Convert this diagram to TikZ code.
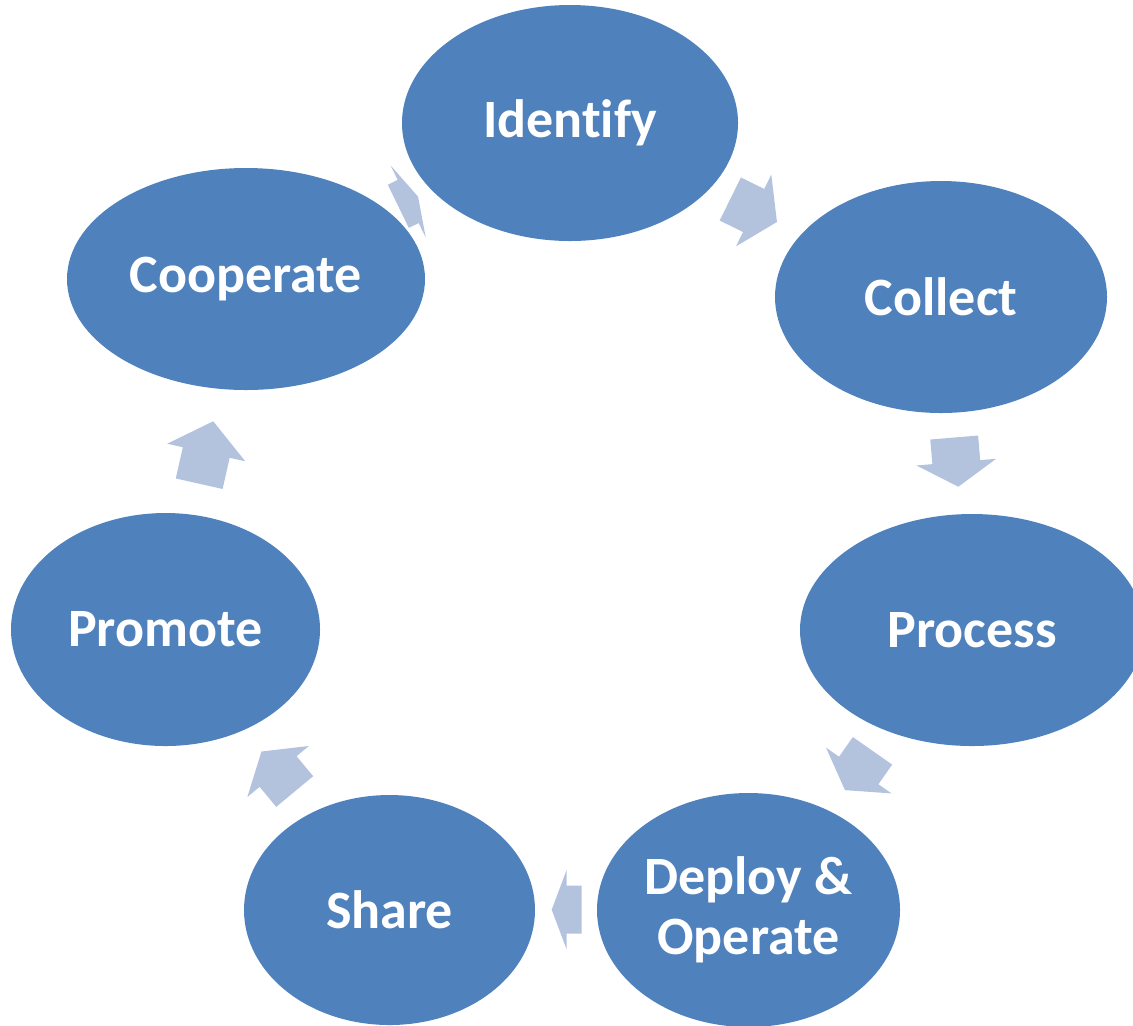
\documentclass[tikz,border=0pt]{standalone}
\usepackage{fontspec}
\setmainfont{Carlito}[Ligatures={NoCommon,NoRare,NoContextual}]
\usetikzlibrary{shapes.geometric}
\definecolor{ellblue}{HTML}{4F81BD}
\definecolor{arrblue}{HTML}{B3C3DE}
\tikzset{
  stage/.style={ellipse, fill=ellblue, text=white, inner sep=0pt,
    font=\fontsize{27}{30}\selectfont\bfseries, align=center},
  blockarrow/.style={fill=arrblue},
}
% tail-mid x, tail-mid y, rotation, length (all in picture px)
\newcommand\blockarr[4]{%
  \begin{scope}[shift={(#1,#2)}, rotate=#3]
    \fill[blockarrow] (0,-24) -- ({#4/2},-24) -- ({#4/2},-40) -- (#4,0)
      -- ({#4/2},40) -- ({#4/2},24) -- (0,24) -- cycle;
  \end{scope}}
\begin{document}
\begin{tikzpicture}[x=0.5pt,y=-0.5pt]
\useasboundingbox (0,0) rectangle (1133,1025);
\clip (0,0) rectangle (1133,1025);
\node[stage, minimum width=168pt, minimum height=118pt] (identify) at (570,123) {Identify};
\node[stage, minimum width=166pt, minimum height=116pt] (collect) at (941,297) {Collect};
\node[stage, minimum width=172pt, minimum height=116pt] (process) at (972,630) {Process};
\node[stage, minimum width=151.5pt, minimum height=117pt] (deploy) at (748.5,910) {Deploy \&\\Operate};
\node[stage, minimum width=145.5pt, minimum height=115pt] (share) at (389.5,910) {Share};
\node[stage, minimum width=154.5pt, minimum height=116.5pt] (promote) at (165.5,629.5) {Promote};
\node[stage, minimum width=179pt, minimum height=111pt] (cooperate) at (246,279) {Cooperate};
\blockarr{730.3}{199}{-26.2}{52}
\blockarr{398.3}{206.3}{26}{22}
\blockarr{954.2}{437.5}{-85.2}{49.4}
\blockarr{872.5}{750.8}{-125}{48}
\blockarr{581.7}{909.7}{-180}{30}
\blockarr{294.7}{791.5}{129.7}{52}
\blockarr{199.2}{483.7}{77.3}{64}
\end{tikzpicture}
\end{document}
